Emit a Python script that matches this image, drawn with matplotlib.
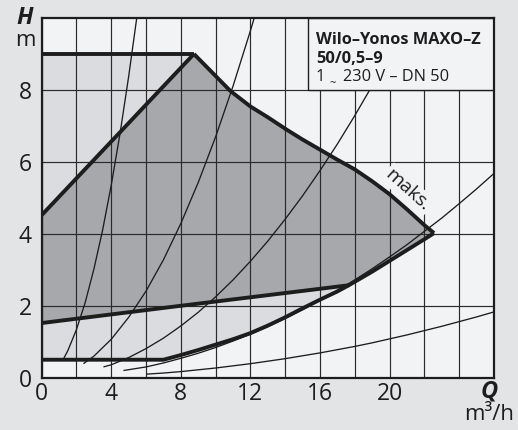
import matplotlib
matplotlib.use("Agg")
import matplotlib.pyplot as plt
from matplotlib.patches import Polygon, Rectangle

plt.rcParams['font.family'] = ['Open Sans', 'DejaVu Sans']

# ---- pump envelope (Q in m³/h, H in m) ----
max_q = [8.75, 10.85, 12.0, 13.0, 14.1, 15.0, 16.0, 17.0, 18.0, 19.0, 20.0, 21.0, 22.0, 22.55]
max_h = [9.0, 7.97, 7.54, 7.24, 6.89, 6.62, 6.34, 6.06, 5.79, 5.46, 5.1, 4.68, 4.24, 4.02]

min_q = [0.0, 7.0, 8.0, 9.0, 10.0, 11.0, 12.0, 13.0, 14.0, 15.0, 16.0, 17.0, 17.65, 19.0, 20.0, 21.0, 22.0, 22.55]
min_h = [0.5, 0.5, 0.63, 0.77, 0.92, 1.07, 1.24, 1.45, 1.68, 1.93, 2.17, 2.4, 2.57, 2.95, 3.25, 3.55, 3.85, 4.02]

top_q = [0.0, 8.75]
top_h = [9.0, 9.0]

left_q = [0.0, 8.75]
left_h = [4.52, 9.0]

low_q = [0.0, 8.0, 17.65]
low_h = [1.52, 2.0, 2.57]

# ---- system curves ----
sys1_q = [1.25, 1.5, 2.0, 2.5, 3.0, 3.5, 4.0, 4.5, 5.0, 5.5]
sys1_h = [0.52, 0.75, 1.34, 2.09, 3.02, 4.10, 5.36, 6.78, 8.38, 10.13]

sys2_q = [2.4, 3.0, 4.0, 5.0, 6.0, 7.0, 8.0, 9.0, 10.0, 11.0, 12.0, 12.3]
sys2_h = [0.39, 0.60, 1.07, 1.68, 2.41, 3.28, 4.29, 5.43, 6.70, 8.11, 9.65, 10.14]

sys3_q = [3.55, 4, 5, 6, 7, 8, 9, 10, 11, 12, 13, 14, 15, 16, 17, 18, 19, 20, 21, 21.1]
sys3_h = [0.30, 0.36, 0.56, 0.81, 1.10, 1.44, 1.82, 2.25, 2.72, 3.24, 3.80, 4.41, 5.06, 5.76, 6.50, 7.29, 8.12, 9.00, 9.92, 10.0]

sys4_q = [4.7, 6, 7, 8, 9, 10, 11, 12, 13, 14, 15, 16, 17, 18, 19, 20, 21, 22, 23, 24, 25, 26]
sys4_h = [0.20, 0.30, 0.41, 0.54, 0.68, 0.84, 1.02, 1.21, 1.42, 1.65, 1.89, 2.15, 2.43, 2.72, 3.03, 3.36, 3.70, 4.07, 4.44, 4.84, 5.25, 5.68]

sys5_q = [6.05, 7, 8, 9, 10, 11, 12, 13, 14, 15, 16, 17, 18, 19, 20, 21, 22, 23, 24, 25, 26]
sys5_h = [0.10, 0.13, 0.17, 0.22, 0.27, 0.33, 0.39, 0.46, 0.53, 0.61, 0.69, 0.78, 0.87, 0.97, 1.08, 1.19, 1.31, 1.43, 1.56, 1.69, 1.83]

x_major = [0, 4, 8, 12, 16, 20]
x_minor = [2, 6, 10, 14, 18, 22, 24]
y_major = [0, 2, 4, 6, 8]

OUTER = '#e3e4e6'
PLOT_BG = '#f2f3f5'
LIGHT = '#dbdcdf'
DARK = '#a7a8ab'
INK = '#1d1d1d'

fig = plt.figure(figsize=(5.18, 4.30), dpi=100, facecolor=OUTER)
ax = fig.add_axes([0.0805, 0.1216, 0.8732, 0.8365])
ax.set_facecolor(PLOT_BG)
ax.set_xlim(0, 26)
ax.set_ylim(0, 10)

# light region: whole operating range between min and max
light_pts = ([(0.0, 0.5), (0.0, 9.0)] + list(zip(max_q, max_h))
             + list(zip(min_q[::-1], min_h[::-1])))
ax.add_patch(Polygon(light_pts, closed=True, facecolor=LIGHT, edgecolor='none', zorder=1))

# dark region
min_tail = [(q, h) for q, h in zip(min_q, min_h) if q >= 17.65]
dark_pts = ([(left_q[0], left_h[0])] + list(zip(max_q, max_h))
            + min_tail[::-1] + [(low_q[1], low_h[1]), (low_q[0], low_h[0])])
ax.add_patch(Polygon(dark_pts, closed=True, facecolor=DARK, edgecolor='none', zorder=1.2))

# grid
ax.set_xticks(x_major)
ax.set_xticks(x_minor, minor=True)
ax.set_yticks(y_major)
ax.set_axisbelow(False)
ax.grid(which='both', color='#2a2a2a', linewidth=0.85, zorder=2.5)

# system curves
for q, h in [(sys1_q, sys1_h), (sys2_q, sys2_h), (sys3_q, sys3_h),
             (sys4_q, sys4_h), (sys5_q, sys5_h)]:
    ax.plot(q, h, color=INK, linewidth=0.95, zorder=3, solid_capstyle='butt')

# thick envelope lines
for q, h in [(max_q, max_h), (min_q, min_h), (top_q, top_h),
             (left_q, left_h), (low_q, low_h)]:
    ax.plot(q, h, color=INK, linewidth=2.8, zorder=5,
            solid_joinstyle='miter', solid_capstyle='butt')

# type designation box
ax.add_patch(Rectangle((15.31, 8.0), 10.69, 2.0, facecolor=PLOT_BG,
                       edgecolor=INK, linewidth=1.0, zorder=4))
ax.text(15.75, 9.27, 'Wilo–Yonos MAXO–Z', fontsize=11.8, fontweight='bold',
        color=INK, va='baseline', ha='left', zorder=6)
ax.text(15.75, 8.75, '50/0,5–9', fontsize=11.8, fontweight='bold',
        color=INK, va='baseline', ha='left', zorder=6)
ax.text(15.75, 8.24, '1', fontsize=11.8, color=INK, va='baseline', ha='left', zorder=6)
ax.text(16.55, 8.12, '~', fontsize=8, color=INK, va='baseline', ha='left', zorder=6)
ax.text(17.32, 8.24, '230 V – DN 50', fontsize=11.8, color=INK,
        va='baseline', ha='left', zorder=6)

ax.text(21.05, 5.22, 'maks.', fontsize=14, color=INK, rotation=-42,
        ha='center', va='center', rotation_mode='anchor', zorder=3.6,
        bbox=dict(facecolor=PLOT_BG, edgecolor='none', pad=1.5))

# axes styling
for s in ax.spines.values():
    s.set_linewidth(1.6)
    s.set_color(INK)
    s.set_zorder(7)
ax.tick_params(which='both', length=0, labelsize=16.5, labelcolor=INK)
ax.tick_params(axis='x', pad=3)
ax.tick_params(axis='y', pad=7)

fig.text(0.048, 0.957, 'H', fontsize=17, fontweight='bold', fontstyle='italic',
         color=INK, ha='center', va='center')
fig.text(0.049, 0.905, 'm', fontsize=16, color=INK, ha='center', va='center')
fig.text(0.944, 0.090, 'Q', fontsize=17, fontweight='bold', fontstyle='italic',
         color=INK, ha='center', va='center')
fig.text(0.944, 0.035, 'm³/h', fontsize=16, color=INK, ha='center', va='center')

fig.savefig('out.png', dpi=100, facecolor=OUTER)
